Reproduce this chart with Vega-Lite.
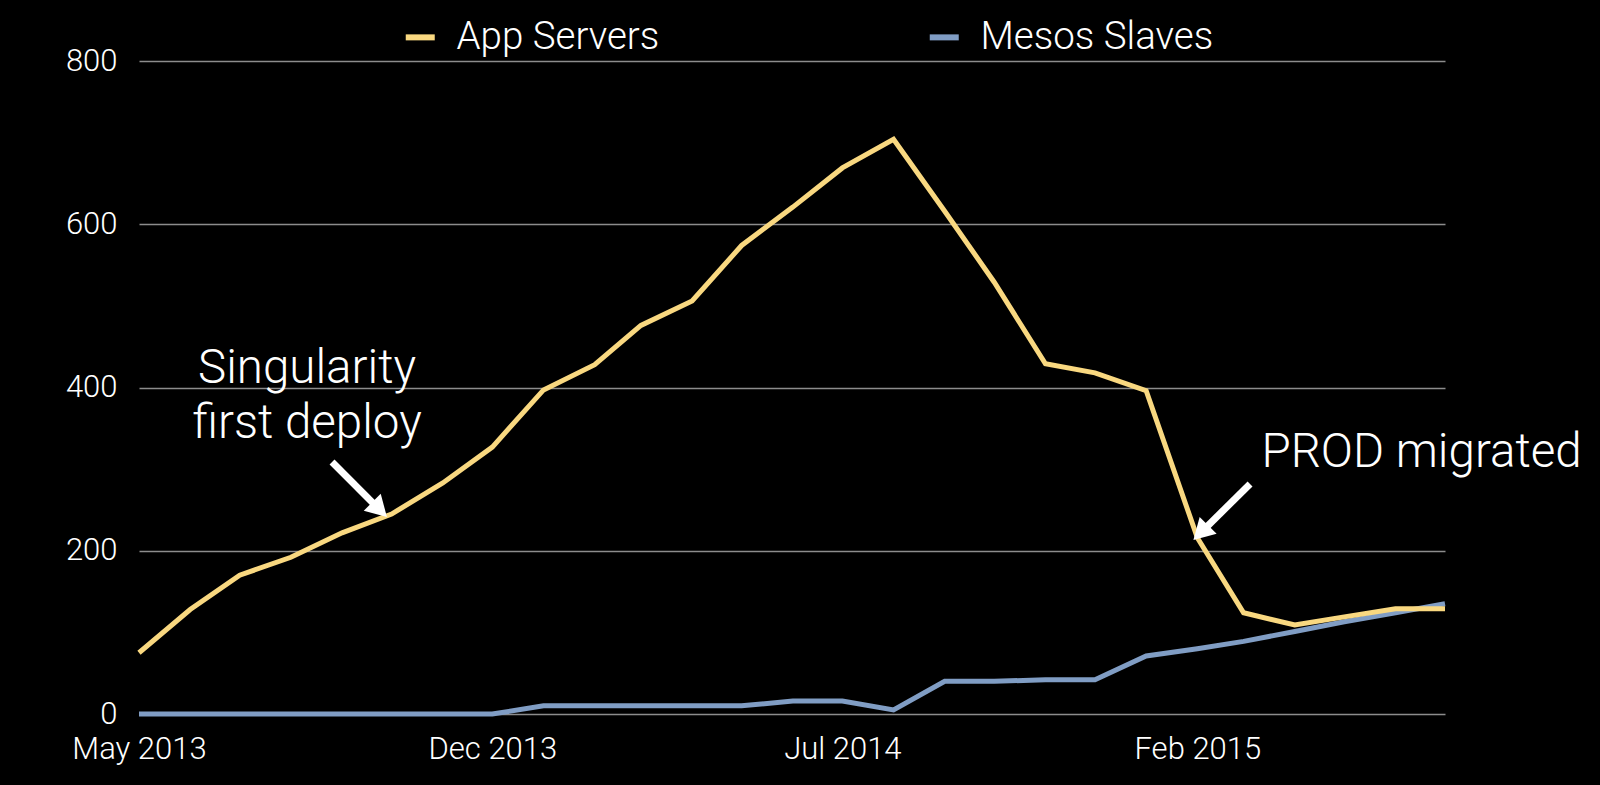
{
  "$schema": "https://vega.github.io/schema/vega-lite/v6.json",
  "width": 1306,
  "height": 653,
  "autosize": {"type": "none"},
  "padding": {"left": 139, "top": 61, "right": 155, "bottom": 71},
  "background": "#000000",
  "config": {
    "view": {"stroke": null},
    "font": "Roboto",
    "axis": {"labelFont": "Roboto", "labelFontWeight": 300, "labelColor": "#ffffff", "title": null, "domain": false, "ticks": false}
  },
  "datasets": {
    "series": [
      {"month": "2013-05-01", "App Servers": 75, "Mesos Slaves": 0},
      {"month": "2013-06-01", "App Servers": 128, "Mesos Slaves": 0},
      {"month": "2013-07-01", "App Servers": 170, "Mesos Slaves": 0},
      {"month": "2013-08-01", "App Servers": 192, "Mesos Slaves": 0},
      {"month": "2013-09-01", "App Servers": 222, "Mesos Slaves": 0},
      {"month": "2013-10-01", "App Servers": 245, "Mesos Slaves": 0},
      {"month": "2013-11-01", "App Servers": 283, "Mesos Slaves": 0},
      {"month": "2013-12-01", "App Servers": 327, "Mesos Slaves": 0},
      {"month": "2014-01-01", "App Servers": 397, "Mesos Slaves": 10},
      {"month": "2014-02-01", "App Servers": 428, "Mesos Slaves": 10},
      {"month": "2014-03-01", "App Servers": 476, "Mesos Slaves": 10},
      {"month": "2014-04-01", "App Servers": 506, "Mesos Slaves": 10},
      {"month": "2014-05-01", "App Servers": 574, "Mesos Slaves": 10},
      {"month": "2014-06-01", "App Servers": 621, "Mesos Slaves": 16},
      {"month": "2014-07-01", "App Servers": 669, "Mesos Slaves": 16},
      {"month": "2014-08-01", "App Servers": 704, "Mesos Slaves": 5},
      {"month": "2014-09-01", "App Servers": 616, "Mesos Slaves": 40},
      {"month": "2014-10-01", "App Servers": 529, "Mesos Slaves": 40},
      {"month": "2014-11-01", "App Servers": 429, "Mesos Slaves": 42},
      {"month": "2014-12-01", "App Servers": 418, "Mesos Slaves": 42},
      {"month": "2015-01-01", "App Servers": 396, "Mesos Slaves": 71},
      {"month": "2015-02-01", "App Servers": 216, "Mesos Slaves": 80},
      {"month": "2015-03-01", "App Servers": 124, "Mesos Slaves": 89},
      {"month": "2015-04-01", "App Servers": 109, "Mesos Slaves": 101},
      {"month": "2015-05-01", "App Servers": 119, "Mesos Slaves": 113},
      {"month": "2015-06-01", "App Servers": 129, "Mesos Slaves": 124},
      {"month": "2015-07-01", "App Servers": 129, "Mesos Slaves": 135}
    ],
    "arrows": [
      {"note": "singularity", "tailDate": "2013-08-25T22:00:00Z", "tailValue": 308.7, "headDate": "2013-09-23T17:00:00Z", "headValue": 250.4},
      {"note": "prod", "tailDate": "2015-03-04T22:00:00Z", "tailValue": 281.8, "headDate": "2015-02-03T02:00:00Z", "headValue": 222.1}
    ],
    "notes": [
      {"label": "Singularity\nfirst deploy", "date": "2013-08-10T19:00:00Z", "value": 405.5},
      {"label": "PROD migrated", "date": "2015-06-16T19:00:00Z", "value": 303}
    ]
  },
  "layer": [
    {
      "data": {"name": "series"},
      "transform": [{"fold": ["Mesos Slaves", "App Servers"], "as": ["series", "value"]}],
      "mark": {"type": "line", "strokeWidth": 5},
      "encoding": {
        "x": {
          "field": "month", "type": "temporal",
          "scale": {"type": "utc", "nice": false, "domain": [{"year": 2013, "month": 5, "date": 1, "utc": true}, {"year": 2015, "month": 7, "date": 1, "utc": true}]},
          "axis": {
            "values": [{"year": 2013, "month": 5, "date": 1, "utc": true}, {"year": 2013, "month": 12, "date": 1, "utc": true}, {"year": 2014, "month": 7, "date": 1, "utc": true}, {"year": 2015, "month": 2, "date": 1, "utc": true}],
            "format": "%b %Y", "labelFontSize": 31, "labelPadding": 20, "grid": false, "labelFlush": false, "labelOverlap": false
          }
        },
        "y": {
          "field": "value", "type": "quantitative",
          "scale": {"domain": [0, 800], "nice": false},
          "axis": {"values": [0, 200, 400, 600, 800], "labelFontSize": 31, "labelPadding": 22, "grid": true, "gridColor": "#8c8c8c", "gridWidth": 1.5}
        },
        "color": {
          "field": "series", "type": "nominal",
          "scale": {"domain": ["App Servers", "Mesos Slaves"], "range": ["#F9D880", "#809DC4"]},
          "legend": {
            "title": null, "orient": "none", "legendX": 262, "legendY": -43, "direction": "horizontal",
            "symbolType": "stroke", "symbolStrokeWidth": 6, "symbolSize": 841,
            "labelFontSize": 38.5, "labelColor": "#ffffff", "labelFont": "Roboto", "labelFontWeight": 300,
            "labelLimit": 500, "labelOffset": 17, "columnPadding": 257, "padding": 0
          }
        }
      }
    },
    {
      "data": {"name": "arrows"},
      "mark": {"type": "rule", "color": "#ffffff", "strokeWidth": 7},
      "encoding": {
        "x": {"field": "tailDate", "type": "temporal"},
        "y": {"field": "tailValue", "type": "quantitative"},
        "x2": {"field": "headDate"},
        "y2": {"field": "headValue"}
      }
    },
    {
      "data": {"name": "arrows"},
      "transform": [{"filter": "datum.note === 'singularity'"}],
      "mark": {"type": "point", "shape": "triangle-up", "filled": true, "color": "#ffffff", "opacity": 1, "size": 576, "angle": 135},
      "encoding": {
        "x": {"field": "headDate", "type": "temporal"},
        "y": {"field": "headValue", "type": "quantitative"}
      }
    },
    {
      "data": {"name": "arrows"},
      "transform": [{"filter": "datum.note === 'prod'"}],
      "mark": {"type": "point", "shape": "triangle-up", "filled": true, "color": "#ffffff", "opacity": 1, "size": 576, "angle": 225},
      "encoding": {
        "x": {"field": "headDate", "type": "temporal"},
        "y": {"field": "headValue", "type": "quantitative"}
      }
    },
    {
      "data": {"name": "notes"},
      "mark": {"type": "text", "color": "#ffffff", "font": "Roboto", "fontWeight": 300, "fontSize": 47.5, "align": "center", "baseline": "alphabetic", "lineBreak": "\n", "lineHeight": 55},
      "encoding": {
        "x": {"field": "date", "type": "temporal"},
        "y": {"field": "value", "type": "quantitative"},
        "text": {"field": "label", "type": "nominal"}
      }
    }
  ]
}
